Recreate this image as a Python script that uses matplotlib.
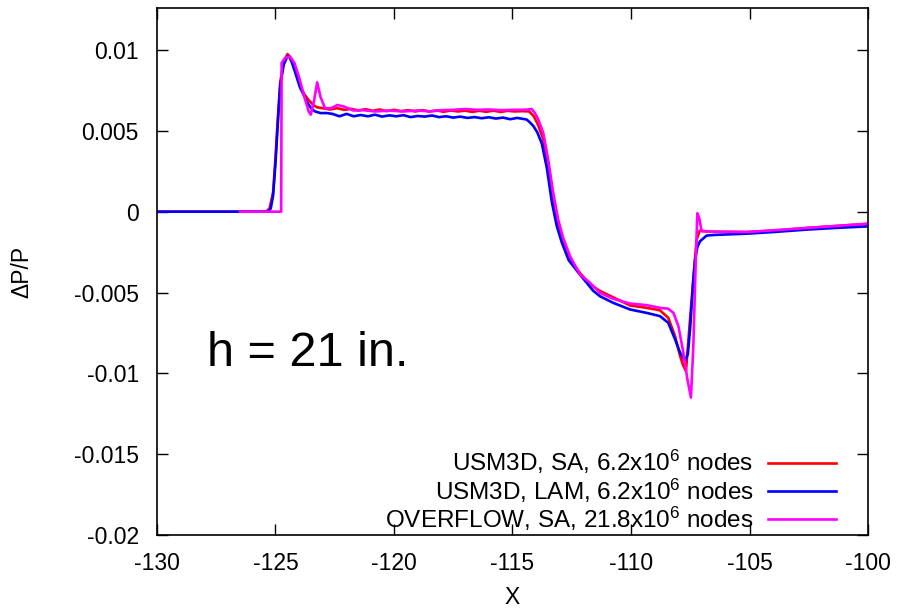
import numpy as np
import matplotlib as mpl
import matplotlib.pyplot as plt

mpl.rcParams['font.family'] = ['Liberation Sans', 'DejaVu Sans']
mpl.rcParams['mathtext.fontset'] = 'custom'
mpl.rcParams['mathtext.rm'] = 'Liberation Sans'
mpl.rcParams['mathtext.it'] = 'Liberation Sans'
mpl.rcParams['axes.unicode_minus'] = False

# USM3D, SA
x_sa = [-130, -126, -125.4, -125.25, -125.1, -125.0, -124.9, -124.8, -124.65, -124.49, -124.35,
        -124.15, -123.97, -123.8, -123.6, -123.4, -123.26, -123.0, -122.7, -122.4, -122.1, -121.8,
        -121.5, -121.2, -120.9, -120.6, -120.3, -120.0, -119.7, -119.4, -119.1, -118.8, -118.5,
        -118.2, -117.9, -117.6, -117.3, -117.0, -116.7, -116.4, -116.1, -115.8, -115.5, -115.2,
        -114.9, -114.6, -114.3, -114.1, -113.93, -113.73, -113.52, -113.31, -113.1, -112.89,
        -112.6, -112.15, -111.73, -111.31, -110.75, -110.04, -109.34, -108.78, -108.43, -108.14,
        -107.93, -107.8, -107.68, -107.51, -107.37, -107.23, -107.1, -106.9, -106.5, -105.1,
        -104.0, -102.6, -101.3, -100]
y_sa = [0, 0, 0, 0.0002, 0.0012, 0.0033, 0.0058, 0.0080, 0.0093, 0.00975, 0.0095,
        0.0087, 0.0078, 0.0073, 0.0069, 0.0066, 0.00646, 0.0064, 0.00632, 0.0064, 0.0063, 0.00636,
        0.00626, 0.00634, 0.00624, 0.00632, 0.00622, 0.0063, 0.00622, 0.00628, 0.0062, 0.00628, 0.0062,
        0.00626, 0.00618, 0.00626, 0.0062, 0.00625, 0.00617, 0.00624, 0.00618, 0.00625, 0.00617, 0.00624,
        0.0062, 0.00622, 0.0062, 0.0059, 0.0054, 0.0046, 0.0030, 0.0009, -0.0007, -0.0018,
        -0.0029, -0.0038, -0.0045, -0.0049, -0.0053, -0.0058, -0.00595, -0.0061, -0.00656, -0.0077,
        -0.00893, -0.0095, -0.00986, -0.00667, -0.0042, -0.00173, -0.00118, -0.0012, -0.00124, -0.00126,
        -0.00118, -0.00101, -0.00088, -0.00076]

# USM3D, LAM
x_lam = [-130, -126, -125.3, -125.2, -125.1, -125.0, -124.9, -124.8, -124.65, -124.5, -124.42,
         -124.3, -124.1, -123.97, -123.8, -123.68, -123.5, -123.33, -123.1, -122.84, -122.6, -122.3,
         -122.0, -121.7, -121.4, -121.1, -120.8, -120.5, -120.2, -119.9, -119.6, -119.3, -119.0,
         -118.7, -118.4, -118.1, -117.8, -117.5, -117.2, -116.9, -116.6, -116.3, -116.0, -115.7,
         -115.4, -115.1, -114.8, -114.6, -114.4, -114.25, -114.12, -113.95, -113.76, -113.55,
         -113.34, -113.13, -112.92, -112.63, -112.15, -111.59, -111.31, -110.75, -110.04, -109.34,
         -108.78, -108.43, -108.14, -107.93, -107.72, -107.6, -107.51, -107.37, -107.3, -107.2,
         -107.09, -106.81, -106.5, -105.1, -104.0, -102.6, -101.3, -100]
y_lam = [0, 0, 0, 0.0002, 0.0010, 0.0030, 0.0055, 0.0078, 0.0091, 0.0096, 0.0096,
         0.0092, 0.0083, 0.0077, 0.0072, 0.0068, 0.0064, 0.0062, 0.0061, 0.0061, 0.00605, 0.0059,
         0.00605, 0.0059, 0.00598, 0.0059, 0.006, 0.00588, 0.00596, 0.0059, 0.00597, 0.00585, 0.00592,
         0.00588, 0.00595, 0.00585, 0.0059, 0.00582, 0.00588, 0.0058, 0.00585, 0.00578, 0.00584, 0.00576,
         0.00582, 0.00572, 0.0058, 0.00575, 0.0057, 0.0055, 0.0053, 0.0049, 0.0042, 0.0027,
         0.0006, -0.0009, -0.0019, -0.0030, -0.0039, -0.0049, -0.00523, -0.00564, -0.00605, -0.00626,
         -0.00646, -0.00687, -0.0079, -0.00872, -0.00924, -0.0088, -0.0073, -0.0042, -0.0030, -0.0022,
         -0.00183, -0.00148, -0.00144, -0.00136, -0.00126, -0.00111, -0.001, -0.00091]

# OVERFLOW, SA
x_ovf = [-126.5, -124.76, -124.74, -124.6, -124.39, -124.2, -124.0, -123.8, -123.6, -123.51,
         -123.38, -123.24, -123.1, -122.91, -122.65, -122.39, -122.1, -121.72, -121.3, -120.8,
         -120.2, -119.6, -119.0, -118.5, -118.0, -117.5, -117.0, -116.5, -116.0, -115.5, -115.0,
         -114.6, -114.35, -114.19, -114.05, -113.91, -113.7, -113.49, -113.28, -113.07, -112.86,
         -112.57, -112.15, -111.73, -111.31, -110.75, -110.04, -109.34, -108.78, -108.43, -108.21,
         -108.0, -107.79, -107.62, -107.47, -107.37, -107.27, -107.2, -107.12, -107.02, -106.6,
         -105.1, -104.0, -102.6, -101.3, -100]
y_ovf = [0, 0, 0.0092, 0.0095, 0.0096, 0.0092, 0.0083, 0.0072, 0.0062, 0.0060,
         0.0068, 0.0080, 0.0071, 0.0064, 0.0064, 0.0066, 0.0065, 0.00626, 0.00628, 0.0062,
         0.00625, 0.0062, 0.00626, 0.0062, 0.00628, 0.0063, 0.00635, 0.0063, 0.00632, 0.00628, 0.0063,
         0.0063, 0.00632, 0.00635, 0.0061, 0.0057, 0.00486, 0.0032, 0.00115, -0.0005, -0.00163,
         -0.00276, -0.00389, -0.0044, -0.00502, -0.00539, -0.00568, -0.00578, -0.00595, -0.006, -0.00626,
         -0.00708, -0.00872, -0.01037, -0.0115, -0.00831, -0.00317, -0.0001, -0.0004, -0.00121, -0.00124,
         -0.00126, -0.00115, -0.00101, -0.00088, -0.00074]

labels = ['USM3D, SA, 6.2x10$^{6}$ nodes',
          'USM3D, LAM, 6.2x10$^{6}$ nodes',
          'OVERFLOW, SA, 21.8x10$^{6}$ nodes']

fig = plt.figure(figsize=(8.98, 6.09), dpi=100)
ax = fig.add_axes([0.1748, 0.1215, 0.7918, 0.8654])

ax.plot(x_sa, y_sa, color='#ff0000', lw=1.9, label=labels[0])
ax.plot(x_lam, y_lam, color='#0000ff', lw=1.9, label=labels[1])
ax.plot(x_ovf, y_ovf, color='#ff00ff', lw=1.9, label=labels[2])

ax.set_xlim(-130, -100)
ax.set_ylim(-0.02, 0.0126)
ax.set_xticks(np.arange(-130, -99, 5))
ax.set_yticks([-0.02, -0.015, -0.01, -0.005, 0, 0.005, 0.01])
ax.set_yticklabels(['-0.02', '-0.015', '-0.01', '-0.005', '0', '0.005', '0.01'])
ax.tick_params(direction='in', length=8, width=1, labelsize=16.5,
               top=True, right=True)
ax.tick_params(axis='x', pad=12)
ax.tick_params(axis='y', pad=13)
for s in ax.spines.values():
    s.set_linewidth(1.2)

ax.set_xlabel('X', fontsize=16.5, labelpad=8)
ax.set_ylabel('ΔP/P', fontsize=16.5, labelpad=29)

ax.text(-127.9, -0.00955, 'h = 21 in.', fontsize=35, ha='left', va='baseline')

ax.legend(loc='lower right', bbox_to_anchor=(0.955, 0.004), frameon=False,
          markerfirst=False, fontsize=17.5, handlelength=2.8,
          labelspacing=0.0, borderpad=0, borderaxespad=0, handletextpad=0.6)

fig.savefig('out.png', dpi=100)
